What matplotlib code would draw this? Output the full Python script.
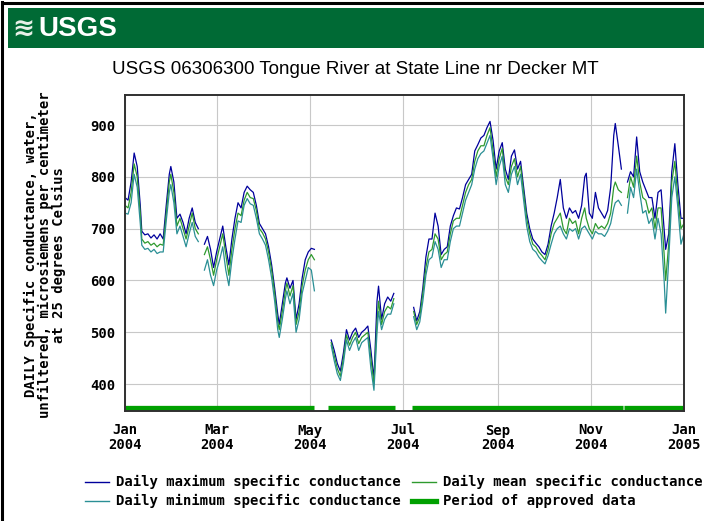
import numpy as np
import matplotlib
matplotlib.use("Agg")
import matplotlib.pyplot as plt
from matplotlib.lines import Line2D
from matplotlib.patches import Rectangle

nan = np.nan

# day of year 2004 (0 = Jan 1), nan rows are gaps in the record
days = [0, 2, 4, 6, 8, 10, 11, 13, 15, 17, 19, 21, 23, 25, 27, 29, 30, 32, 34, 36,
        38, 40, 42, 44, 46, 48, 50, 52, 54, 56, 58, 60, 62, 64, 66, 68, 70, 72, 74, 76,
        78, 80, 82, 84, 86, 88, 90, 92, 94, 96, 98, 100, 101, 103, 105, 106, 108, 110, 112, 114,
        116, 118, 120, 122, 124, 129, 135, 137, 139, 141, 143, 145, 147, 149, 151, 153, 155, 157, 159, 161,
        163, 165, 166, 168, 170, 172, 174, 176, 182, 189, 191, 193, 195, 197, 199, 201, 203, 205, 207, 209,
        211, 213, 215, 217, 219, 221, 223, 225, 227, 229, 231, 233, 235, 237, 239, 241, 243, 245, 247, 249,
        251, 253, 255, 257, 259, 261, 263, 265, 267, 269, 271, 273, 275, 277, 279, 281, 283, 285, 287, 289,
        291, 293, 295, 297, 299, 301, 302, 304, 306, 308, 310, 312, 314, 316, 318, 320, 321, 323, 325, 327,
        329, 331, 333, 335, 337, 339, 341, 343, 345, 347, 349, 351, 353, 354, 356, 358, 360, 362, 364, 366]

mean_vals = [745, 740, 770, 825, 800, 730, 680, 672, 675, 668, 672, 665, 670, 668, 730, 790, 805, 770, 705, 720,
             700, 680, 705, 730, 700, 690, nan, 650, 665, 640, 610, 640, 665, 690, 650, 610, 660, 700, 730, 725,
             755, 770, 760, 758, 735, 700, 692, 680, 655, 620, 575, 520, 505, 540, 580, 595, 570, 590, 515, 540,
             590, 620, 640, 650, 640, nan, 480, 455, 430, 415, 450, 495, 475, 490, 500, 478, 490, 495, 500, 450,
             400, 520, 560, 515, 540, 550, 545, 565, nan, 540, 515, 530, 575, 625, 655, 660, 690, 680, 640, 650,
             655, 690, 715, 720, 720, 745, 770, 785, 795, 830, 850, 860, 860, 880, 895, 850, 800, 835, 855, 800,
             785, 820, 835, 800, 820, 770, 720, 690, 670, 665, 655, 648, 640, 660, 690, 710, 720, 730, 700, 690,
             720, 710, 715, 690, 720, 740, 720, 700, 690, 710, 700, 705, 700, 710, 730, 780, 790, 775, 770, nan,
             760, 800, 780, 840, 790, 760, 755, 730, 740, 700, 740, 740, 650, 600, 670, 790, 830, 760, 700, 710]

max_vals = [760, 755, 790, 846, 820, 745, 695, 688, 690, 682, 688, 680, 690, 680, 745, 805, 820, 790, 720, 728,
            712, 690, 720, 740, 712, 700, nan, 670, 685, 660, 625, 655, 680, 705, 665, 630, 680, 720, 750, 740,
            770, 782, 775, 770, 745, 710, 700, 690, 665, 630, 585, 535, 515, 555, 595, 605, 585, 600, 525, 555,
            605, 640, 655, 662, 660, nan, 485, 465, 440, 425, 460, 505, 485, 500, 508, 490, 500, 505, 512, 465,
            410, 560, 589, 525, 555, 568, 560, 575, nan, 548, 522, 540, 585, 645, 680, 680, 730, 705, 650, 660,
            665, 705, 725, 740, 738, 760, 785, 795, 805, 850, 862, 875, 880, 895, 907, 870, 815, 850, 866, 815,
            795, 840, 852, 815, 830, 780, 730, 700, 680, 672, 665, 655, 650, 670, 705, 730, 760, 795, 740, 720,
            740, 730, 735, 720, 745, 800, 807, 730, 720, 770, 740, 730, 720, 735, 780, 880, 903, 860, 815, nan,
            790, 810, 800, 877, 810, 790, 775, 760, 760, 720, 770, 775, 700, 660, 690, 810, 864, 785, 720, 720]

min_vals = [730, 728, 750, 805, 780, 710, 668, 660, 662, 655, 660, 652, 655, 655, 715, 770, 785, 750, 690, 705,
            685, 665, 690, 712, 685, 675, nan, 620, 640, 610, 590, 620, 640, 665, 620, 590, 640, 680, 715, 712,
            745, 758, 748, 745, 720, 690, 680, 668, 640, 605, 560, 505, 490, 525, 565, 580, 555, 575, 500, 525,
            575, 600, 625, 620, 580, nan, 475, 445, 420, 407, 440, 485, 465, 480, 490, 465, 480, 485, 490, 430,
            388, 500, 540, 505, 525, 535, 535, 555, nan, 530, 505, 520, 560, 610, 640, 645, 675, 660, 625, 640,
            640, 675, 700, 705, 705, 730, 755, 770, 785, 815, 835, 845, 850, 865, 880, 835, 785, 820, 840, 785,
            770, 805, 820, 785, 805, 755, 705, 675, 660, 655, 645, 638, 632, 648, 670, 690, 700, 705, 690, 680,
            700, 695, 700, 680, 700, 705, 700, 690, 680, 695, 690, 690, 685, 695, 710, 740, 750, 755, 745, nan,
            730, 780, 760, 815, 770, 730, 735, 710, 720, 680, 720, 690, 600, 537, 640, 760, 800, 740, 670, 690]

# periods of approved data (day of year)
approved_periods = [(0, 124), (133, 177), (188, 326), (326.6, 366)]

tick_days = [0, 60, 121, 182, 244, 305, 366]
tick_labels = ["Jan\n2004", "Mar\n2004", "May\n2004", "Jul\n2004", "Sep\n2004", "Nov\n2004", "Jan\n2005"]
y_ticks = [400, 500, 600, 700, 800, 900]

c_max = "#00009c"
c_mean = "#2e9a2e"
c_min = "#2a8f95"
c_bar = "#00a000"

mono = "DejaVu Sans Mono"
sans = "Liberation Sans"

fig = plt.figure(figsize=(7.04, 5.21), dpi=100)
W, H = 704.0, 521.0

# outer frame (left + top)
fig.add_artist(Line2D([1.5 / W, 1.5 / W], [0, 1 - 1.5 / H], color="black", lw=2.2))
fig.add_artist(Line2D([1.5 / W, 1], [1 - 2.5 / H, 1 - 2.5 / H], color="black", lw=2.2))

# USGS banner
fig.add_artist(Rectangle((8 / W, 1 - 48 / H), 1 - 8 / W, 40 / H, transform=fig.transFigure,
                         facecolor="#006a35", edgecolor="none"))
fig.text(12 / W, 1 - 29 / H, "\u224b", color="#e8f0e8", fontsize=19, fontweight="bold",
         ha="left", va="center", family="DejaVu Sans")
fig.text(38 / W, 1 - 29 / H, "USGS", color="white", fontsize=20, fontweight="bold",
         ha="left", va="center", family=sans)

fig.text(355 / W, 1 - 70 / H, "USGS 06306300 Tongue River at State Line nr Decker MT",
         fontsize=13.5, ha="center", va="center", family=sans)

ax = fig.add_axes([125 / W, 1 - 411 / H, 559 / W, 316 / H])

x = np.array(days, dtype=float)
ax.plot(x, np.array(max_vals, dtype=float), color=c_max, lw=0.9)
ax.plot(x, np.array(mean_vals, dtype=float), color=c_mean, lw=0.9)
ax.plot(x, np.array(min_vals, dtype=float), color=c_min, lw=0.9)

for s, e in approved_periods:
    ax.plot([s, e], [354, 354], color=c_bar, lw=3.8, solid_capstyle="butt")

ax.set_xlim(0, 366)
ax.set_ylim(348, 958)
ax.set_xticks(tick_days)
ax.set_xticklabels(tick_labels, family=mono, fontweight="bold", fontsize=10, linespacing=1.05)
ax.set_yticks(y_ticks)
ax.set_yticklabels([str(v) for v in y_ticks], family=mono, fontweight="bold", fontsize=10)
ax.tick_params(axis="both", length=0)
ax.tick_params(axis="x", pad=9)
ax.tick_params(axis="y", pad=7)
ax.grid(True, color="#c8c8c8", lw=0.8)
ax.set_axisbelow(True)
for sp in ax.spines.values():
    sp.set_color("#303030")
    sp.set_linewidth(1.4)

fig.text(45 / W, 1 - 255 / H,
         "DAILY Specific conductance, water,\nunfiltered, microsiemens per centimeter\nat 25 degrees Celsius",
         rotation=90, ha="center", va="center", family=mono, fontweight="bold", fontsize=10,
         linespacing=1.0, multialignment="center")

# legend
legend_items = [
    (85, 482, c_max, 1.0, "Daily maximum specific conductance"),
    (412, 482, c_mean, 1.0, "Daily mean specific conductance"),
    (85, 501, c_min, 1.0, "Daily minimum specific conductance"),
    (412, 501, c_bar, 3.8, "Period of approved data"),
]
for lx, ly, col, lw, label in legend_items:
    fig.add_artist(Line2D([lx / W, (lx + 24) / W], [1 - ly / H, 1 - ly / H], color=col, lw=lw))
    fig.text((lx + 31) / W, 1 - ly / H, label, family=mono, fontweight="bold", fontsize=10,
             ha="left", va="center")

fig.savefig("out.png", dpi=100)
